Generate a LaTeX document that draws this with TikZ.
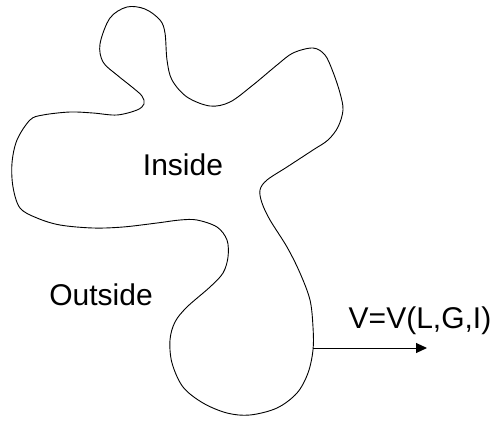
\documentclass[tikz,border=0pt]{standalone}
\usepackage{fontspec}
\setmainfont{Liberation Sans}
\usetikzlibrary{arrows.meta}
\tikzset{
  blob/.style={draw=black, line width=0.9pt},
  lbl/.style={inner sep=0pt, anchor=base, font=\fontsize{30}{36}\selectfont},
  vec/.style={draw=black, line width=1pt, -{Triangle[length=11pt,width=10pt]}}
}
\begin{document}
\begin{tikzpicture}[x=1pt,y=-1pt]
\useasboundingbox (0,0) rectangle (496,424);
\draw[blob] plot[smooth cycle, tension=0.55] coordinates {
 (100,44) (110,18) (127,7) (145,9) (160,20) (165,33) (167,60) (172,80)
 (187,97) (210,106) (230,102) (253,85) (277,65) (293,53) (313,48) (325,55)
 (333,72) (340,93) (343,110) (338,127) (328,140) (313,150) (287,167) (267,180)
 (260,190) (262,203) (270,220) (287,247) (300,273) (310,300) (313,327) (313,350)
 (308,373) (297,393) (277,408) (250,415) (227,413) (203,403) (183,387) (172,363)
 (170,340) (175,322) (187,307) (210,287) (223,273) (228,257) (227,240) (217,227)
 (197,220) (180,220) (157,223) (123,227) (93,228) (60,225) (37,218) (20,208)
 (13,187) (12,163) (17,140) (30,120) (43,115) (70,112) (93,113) (117,115)
 (137,110) (144,104) (142,96) (132,87) (117,75) (103,62)
};
\coordinate (src) at (313,348);
\coordinate (dst) at (427,348);
\draw[vec] (src) -- (dst);
\node[lbl] (inside) at (183,175) {Inside};
\node[lbl] (outside) at (101,305) {Outside};
\node[lbl] (vlabel) at (420,328) {V=V(L,G,I)};
\end{tikzpicture}
\end{document}
